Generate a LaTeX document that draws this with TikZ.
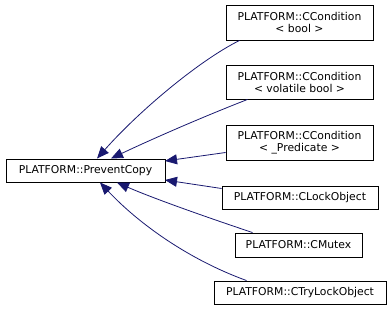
\documentclass[tikz,border=0pt]{standalone}
\usepackage{fontspec}
\setmainfont{DejaVu Sans}
\usetikzlibrary{arrows.meta}
\definecolor{edgeblue}{HTML}{191970}
\begin{document}
\begin{tikzpicture}[x=1pt,y=-1pt,
  cls/.style={draw=black,line width=0.9pt,fill=white,inner sep=0pt,
    font=\fontsize{10.8}{12}\selectfont,align=center},
  inherit/.style={draw=edgeblue,line width=0.8pt,
    -{Triangle[length=12pt,width=10pt,fill=edgeblue]}}]
\useasboundingbox (0,0) rectangle (392,311);
% class boxes
\node[cls,minimum width=147pt,minimum height=35pt] (b1) at (299.5,22.5) {PLATFORM::CCondition\\\textless{} bool \textgreater{}};
\node[cls,minimum width=147pt,minimum height=34pt] (b2) at (299.5,82) {PLATFORM::CCondition\\\textless{} volatile bool \textgreater{}};
\node[cls,minimum width=147pt,minimum height=35pt] (b3) at (299.5,142.5) {PLATFORM::CCondition\\\textless{} \_Predicate \textgreater{}};
\node[cls,minimum width=159pt,minimum height=23pt] (pc) at (85.5,170.5) {PLATFORM::PreventCopy};
\node[cls,minimum width=156pt,minimum height=23pt] (lo) at (300,197.5) {PLATFORM::CLockObject};
\node[cls,minimum width=127pt,minimum height=24pt] (mx) at (298.5,245) {PLATFORM::CMutex};
\node[cls,minimum width=172pt,minimum height=23pt] (tl) at (300,292.5) {PLATFORM::CTryLockObject};
% inheritance edges
\coordinate (t1) at (97,158.5);
\coordinate (t2) at (111,158.5);
\coordinate (t3) at (165,161);
\coordinate (t4) at (165,180);
\coordinate (t5) at (117,182.5);
\coordinate (t6) at (100,182.5);
\draw[inherit] (b1.south west) ++(14,0) .. controls (200,60) and (140,110) .. (t1);
\draw[inherit] (b2.south west) ++(22,0) .. controls (200,118) and (150,140) .. (t2);
\draw[inherit] (b3.west) ++(0,10) -- (t3);
\draw[inherit] (lo.west) ++(0,-9) -- (t4);
\draw[inherit] (mx.north west) ++(18,0) .. controls (200,215) and (150,197) .. (t5);
\draw[inherit] (tl.north west) ++(33,0) .. controls (190,260) and (140,225) .. (t6);
\end{tikzpicture}
\end{document}
